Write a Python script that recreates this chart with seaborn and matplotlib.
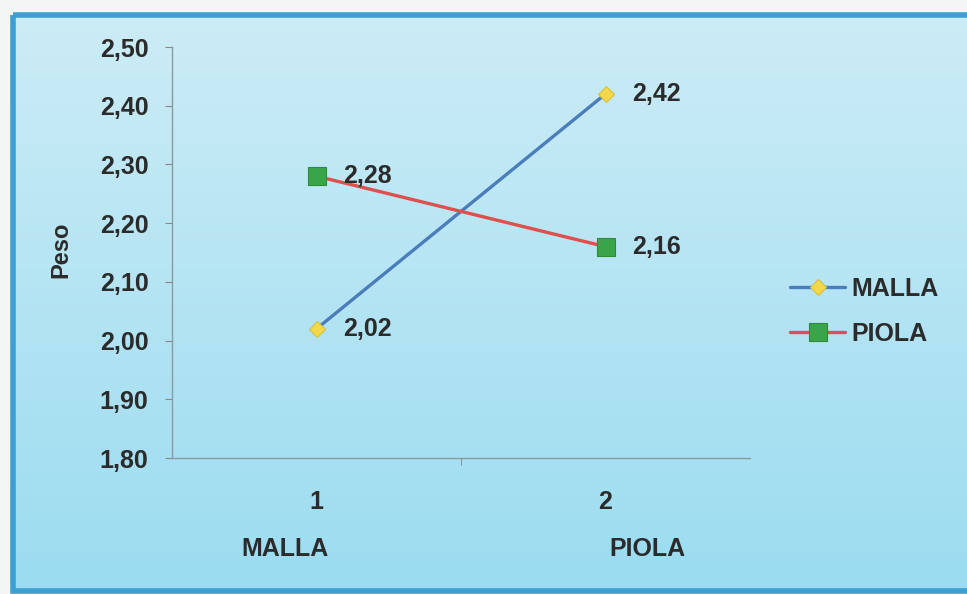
import matplotlib
matplotlib.use("Agg")
import matplotlib.pyplot as plt
import matplotlib.ticker as mticker
from matplotlib.patches import Rectangle
import numpy as np
import pandas as pd
import seaborn as sns

# data
positions = [1, 2]
tick_labels = ["1", "2"]
category_names = ["MALLA", "PIOLA"]
malla = [2.02, 2.42]
piola = [2.28, 2.16]
series_names = ["MALLA", "PIOLA"]

sns.set_style("ticks")
plt.rcParams["font.family"] = ["Liberation Sans", "DejaVu Sans"]
plt.rcParams["font.weight"] = "bold"

txt = "#2b2b2b"
fs = 18
fig = plt.figure(figsize=(9.67, 5.94), dpi=100)
fig.patch.set_facecolor("#f4f6f6")

# background: gradient panel with blue frame
bg = fig.add_axes([0, 0, 1, 1])
bg.set_xlim(0, 967)
bg.set_ylim(594, 0)
bg.axis("off")
top = np.array([204, 236, 246]) / 255
bot = np.array([155, 220, 240]) / 255
t = np.linspace(0, 1, 200)[:, None]
grad = top[None, :] * (1 - t) + bot[None, :] * t
grad = np.repeat(grad[:, None, :], 2, axis=1)
bg.imshow(grad, extent=[14, 967, 592, 16], aspect="auto", interpolation="bilinear")
bg.add_patch(Rectangle((13, 15), 970, 576, fill=False, edgecolor="#3d9fd2", linewidth=4))

ax = fig.add_axes([172 / 967, 1 - 458 / 594, (750 - 172) / 967, (458 - 47) / 594])
ax.set_facecolor("none")

df = pd.DataFrame({"x": positions * 2,
                   "Peso": malla + piola,
                   "serie": [series_names[0]] * 2 + [series_names[1]] * 2})

sns.lineplot(data=df[df["serie"] == "MALLA"], x="x", y="Peso", ax=ax, color="#4a7dbb",
             linewidth=2.4, marker="D", markersize=8, markerfacecolor="#f3d84a",
             markeredgecolor="#d8c040", markeredgewidth=0.8, label="MALLA")
sns.lineplot(data=df[df["serie"] == "PIOLA"], x="x", y="Peso", ax=ax, color="#df4f4c",
             linewidth=2.4, marker="s", markersize=13, markerfacecolor="#3aa548",
             markeredgecolor="#2e8a3a", markeredgewidth=0.8, label="PIOLA")

for xs, ys in [(positions, malla), (positions, piola)]:
    for x, y in zip(xs, ys):
        ax.annotate(f"{y:.2f}".replace(".", ","), (x, y), xytext=(19, 0),
                    textcoords="offset points", ha="left", va="center",
                    fontsize=fs, fontweight="bold", color=txt)

ax.set_xlim(0.5, 2.5)
ax.set_ylim(1.80, 2.50)
ax.yaxis.set_major_locator(mticker.MultipleLocator(0.1))
ax.yaxis.set_major_formatter(mticker.FuncFormatter(lambda v, p: f"{v:.2f}".replace(".", ",")))
ax.set_xticks(positions)
ax.set_xticklabels(tick_labels)
ax.set_xticks([1.5], minor=True)
ax.tick_params(axis="x", which="major", length=0, pad=23, labelsize=fs, labelcolor=txt)
ax.tick_params(axis="x", which="minor", length=5, color="#888888")
ax.tick_params(axis="y", length=5, color="#888888", pad=12, labelsize=fs, labelcolor=txt)

for lbl, fx in zip(category_names, [0.195, 0.822]):
    ax.text(fx, -0.221, lbl, transform=ax.transAxes, ha="center", va="center",
            fontsize=fs, fontweight="bold", color=txt)

ax.set_xlabel("")
ax.set_ylabel("Peso", fontsize=17, fontweight="bold", color=txt)
ax.yaxis.set_label_coords(-0.172, 0.506)

for s in ["top", "right"]:
    ax.spines[s].set_visible(False)
for s in ["left", "bottom"]:
    ax.spines[s].set_color("#8a9a9f")
    ax.spines[s].set_linewidth(1.0)

ax.legend(loc="upper left", bbox_to_anchor=(790 / 967, 1 - 277 / 594),
          bbox_transform=fig.transFigure, frameon=False, borderaxespad=0,
          borderpad=0, handlelength=2.2, handletextpad=0.25, labelspacing=0.85,
          prop={"size": fs, "weight": "bold"}, labelcolor=txt)

fig.savefig("out.png", dpi=100)
